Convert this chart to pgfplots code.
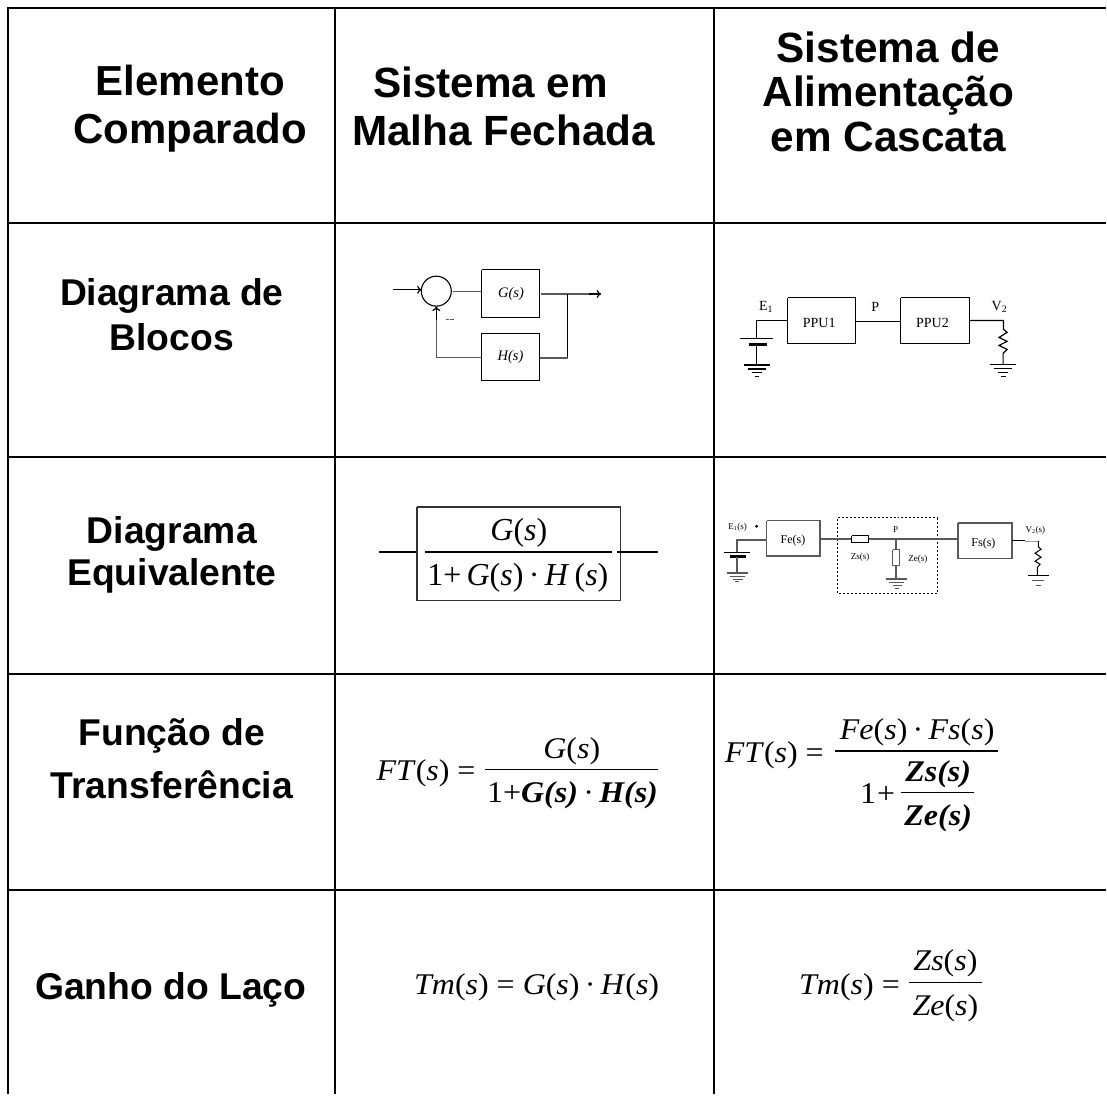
\documentclass[border=0pt]{standalone}
\usepackage{fontspec}
\usepackage{pgfplots}
\pgfplotsset{compat=1.18}
\usetikzlibrary{arrows.meta}
\setmainfont{Liberation Serif}
\newfontfamily\hd{Liberation Sans}
\newcommand\Ln[2][]{\addplot[black,line width=1.2pt,#1] coordinates {#2};}
\newcommand\Gl[2][]{\addplot[black!65,line width=1.6pt,#1] coordinates {#2};}
\newcommand\Tb[1]{\addplot[black,line width=2pt] coordinates {#1};}
\newcommand\Hd[4]{\node[anchor=base,inner sep=0pt,font=\hd\bfseries\fontsize{#3}{#3}\selectfont] at (axis cs:#1,#2) {#4};}
\newcommand\Tx[4]{\node[anchor=base,inner sep=0pt,font=\fontsize{#3}{#3}\selectfont] at (axis cs:#1,#2) {#4};}
\newcommand\Fm[3]{\node[anchor=base,inner sep=0pt,font=\fontsize{32}{32}\selectfont] at (axis cs:#1,#2) {\scalebox{1}[0.94]{#3}};}
\newcommand\FL[3]{\node[anchor=base west,inner sep=0pt,font=\fontsize{32}{32}\selectfont] at (axis cs:#1,#2) {\scalebox{1}[0.94]{#3}};}
\newcommand\I[1]{\textit{#1}}
\newcommand\B[1]{\textbf{\textit{#1}}}
\tikzset{tip/.style={-{To[length=4.5pt,width=8pt]}}}
\begin{document}
\begin{tikzpicture}
\begin{axis}[hide axis,scale only axis,width=1107pt,height=1095pt,
  xmin=0,xmax=1107,ymin=-0.7,ymax=1094.3,y dir=reverse,clip=false]
% page extent
\addplot[draw=none] coordinates {(0,-0.7)(1107,1094.3)};
% table grid
\Tb{(8,6)(8,1094.3)}
\Tb{(335,7)(335,1094.3)}
\Tb{(714.5,7)(714.5,1094.3)}
\Tb{(7,7)(1107,7)}
\Tb{(8,222.5)(1107,222.5)}
\Tb{(8,456.7)(1107,456.7)}
\Tb{(8,674)(1107,674)}
\Tb{(8,890)(1107,890)}
% first column
\Hd{190.4}{95}{42}{Elemento}
\Hd{190.4}{143}{42}{Comparado}
\Hd{172}{305}{37.3}{Diagrama de}
\Hd{172}{350}{37.3}{Blocos}
\Hd{172}{543}{37.3}{Diagrama}
\Hd{172}{585}{37.3}{Equivalente}
\Hd{172}{745}{37.3}{Função de}
\Hd{172}{799}{37.3}{Transferência}
\Hd{171}{1000}{37.3}{Ganho do Laço}
% headers
\Hd{491}{97}{42.3}{Sistema em}
\Hd{504}{145}{42.3}{Malha Fechada}
\Hd{889}{62}{42.3}{Sistema de}
\Hd{889}{106}{42.3}{Alimentação}
\Hd{889}{151}{42.3}{em Cascata}
% block diagram
\addplot[only marks,mark=o,mark size=15pt,mark options={draw=black,line width=1.1pt,fill=none}] coordinates {(436.7,290.7)};
\Ln[tip]{(393.7,289.3)(422,289.3)}
\Gl{(453,291)(482,291)}
\Ln{(482.3,269.3)(540,269.3)(540,316.7)(482.3,316.7)(482.3,269.3)}
\Ln{(482.3,332.7)(540,332.7)(540,380.3)(482.3,380.3)(482.3,332.7)}
\Gl{(541,293.5)(600,293.5)}
\Ln[tip]{(590,293.5)(601.7,293.5)}
\Ln{(568.3,293.5)(568.3,357.7)}
\Gl{(568.3,357.7)(540,357.7)}
\Gl{(482,357)(436.7,357)(436.7,310)}
\Ln[tip]{(436.7,320)(436.7,306)}
\Gl[line width=1pt]{(446,319)(449.5,319)}
\Gl[line width=1pt]{(450.5,319)(454,319)}
\Tx{511.5}{297}{14.5}{\I{G(s)}}
\Tx{511}{360}{14.5}{\I{H(s)}}
% cascade diagram
\Tx{766.7}{310}{14}{E\textsubscript{1}}
\Tx{876}{311}{14}{P}
\Tx{1000.3}{310}{14}{V\textsubscript{2}}
\Ln{(788.3,297.3)(856.3,297.3)(856.3,342.7)(788.3,342.7)(788.3,297.3)}
\Ln{(901.7,297.3)(970.3,297.3)(970.3,342.7)(901.7,342.7)(901.7,297.3)}
\Tx{820}{327}{14}{PPU1}
\Tx{933.3}{327}{14}{PPU2}
\Ln{(856.3,321.3)(901.7,321.3)}
\Ln{(788.3,320)(757.3,320)(757.3,337.7)}
\Ln{(741,337.7)(774,337.7)}
\addplot[black,line width=3.5pt] coordinates {(749.5,344.3)(768,344.3)};
\Ln{(757.3,344.3)(757.3,364.7)}
\Ln{(744.3,364.7)(771,364.7)}
\Ln{(748.3,368.7)(766.7,368.7)}
\Ln{(752.3,372)(762.7,372)}
\Ln{(755.3,376)(760,376)}
\Ln{(970.3,320)(1004.3,320)(1004.3,328.7)(1008,332)(1000,337)(1008,341)(1000,345)(1008,349)(1004,353)(1004,364.3)}
\Ln{(991,364.3)(1017.3,364.3)}
\Ln{(995,368.3)(1013,368.3)}
\Ln{(999,372)(1009,372)}
\Ln{(1001.5,376)(1006.5,376)}
% equivalent block
\addplot[black!80,line width=1.2pt] coordinates {(417.3,506.7)(621.3,506.7)(621.3,600.3)(417.3,600.3)(417.3,506.7)};
\Ln[line width=1.6pt]{(379,551.7)(416,551.7)}
\Ln[line width=1.6pt]{(617.3,551.7)(658.7,551.7)}
\Ln{(425.3,551.7)(612.7,551.7)}
\Tx{519.3}{540.7}{32}{\I{G}(\I{s})}
\Tx{518.3}{585}{32}{1+\,\I{G}(\I{s})\,·\,\I{H}\,(\I{s})}
% equivalent cascade
\Tx{738.3}{529}{9}{E\textsubscript{1}(s)}
\addplot[only marks,mark=*,mark size=1.2pt,black] coordinates {(757.3,526)};
\Gl{(767.3,539.7)(737.7,539.7)(737.7,552)}
\Ln{(725,552)(750.7,552)}
\addplot[black,line width=3pt] coordinates {(731,556.7)(746.7,556.7)};
\Gl{(737.7,556.7)(737.7,572.7)}
\Gl{(727.3,572.7)(748.3,572.7)}
\Gl[line width=1pt]{(731,576.3)(746,576.3)}
\Gl[line width=1pt]{(733.5,579)(744,579)}
\Gl[line width=1pt]{(736,581.5)(740,581.5)}
\Gl{(767.3,520.3)(820.7,520.3)(820.7,555.7)(767.3,555.7)(767.3,520.3)}
\Tx{793.7}{543.5}{12}{Fe(s)}
\addplot[black,line width=1pt,dash pattern=on 2pt off 2pt] coordinates {(838.3,517.7)(938.3,517.7)(938.3,593.3)(838.3,593.3)(838.3,517.7)};
\Gl{(820.7,538.7)(852.3,538.7)}
\Ln[line width=1pt]{(852.3,535.3)(869.7,535.3)(869.7,542.3)(852.3,542.3)(852.3,535.3)}
\Gl{(869.7,538.7)(959,538.7)}
\Gl{(959,522.7)(1012.7,522.7)(1012.7,558.3)(959,558.3)(959,522.7)}
\Tx{984.3}{546.5}{12}{Fs(s)}
\Gl{(897,538.7)(897,549.7)}
\Gl[line width=1pt]{(893.7,549.7)(900.7,549.7)(900.7,565.7)(893.7,565.7)(893.7,549.7)}
\Gl{(897,565.7)(897,579)}
\Gl{(887,579)(907.7,579)}
\Gl[line width=1pt]{(890,582.7)(905,582.7)}
\Gl[line width=1pt]{(893.3,585.3)(902.7,585.3)}
\Gl[line width=1pt]{(895.7,588.3)(900,588.3)}
\Tx{896.3}{532}{9}{P}
\Tx{861}{559.5}{9}{Zs(s)}
\Tx{918.7}{561}{9}{Ze(s)}
\Tx{1036.3}{532}{9}{V\textsubscript{2}(s)}
\Ln[line width=1pt]{(1012.7,540.7)(1026,540.7)}
\addplot[black!40,line width=1pt] coordinates {(1026,541)(1039.3,541)};
\Ln[line width=1pt]{(1039.3,541)(1039.3,546.7)(1042,549)(1036,553)(1042,557)(1036,561)(1041,564)(1038.3,567.3)(1038.3,575.3)}
\Ln[line width=1pt]{(1029,575.3)(1050,575.3)}
\Gl[line width=1pt]{(1033,580.7)(1045,580.7)}
\Gl[line width=1pt]{(1036.5,585)(1041.5,585)}
% transfer functions
\FL{376.7}{780}{\I{FT}(\I{s}) =}
\Fm{572.3}{758.3}{\I{G}(\I{s})}
\Ln{(485.7,769.3)(658.8,769.3)}
\Fm{573}{802.7}{1+\B{G(s)}\,·\,\B{H(s)}}
\FL{725.3}{762.7}{\I{FT}(\I{s}) =}
\Ln{(835.9,751)(998.7,751)}
\Fm{918}{739.3}{\I{Fe}(\I{s})\,·\,\I{Fs}(\I{s})}
\FL{860.8}{804}{1\kern1pt+}
\Ln{(902.3,792.3)(974.7,792.3)}
\Fm{939}{781.7}{\B{Zs(s)}}
\Fm{939}{825.7}{\B{Ze(s)}}
% loop gain
\FL{414.3}{995}{\I{Tm}(\I{s}) = \I{G}(\I{s})\,·\,\I{H}(\I{s})}
\FL{799.7}{995}{\I{Tm}(\I{s}) =}
\Ln{(909.7,982.3)(983,982.3)}
\Fm{946.3}{970.7}{\I{Zs}(\I{s})}
\Fm{946.3}{1015.7}{\I{Ze}(\I{s})}
\end{axis}
\end{tikzpicture}
\end{document}
